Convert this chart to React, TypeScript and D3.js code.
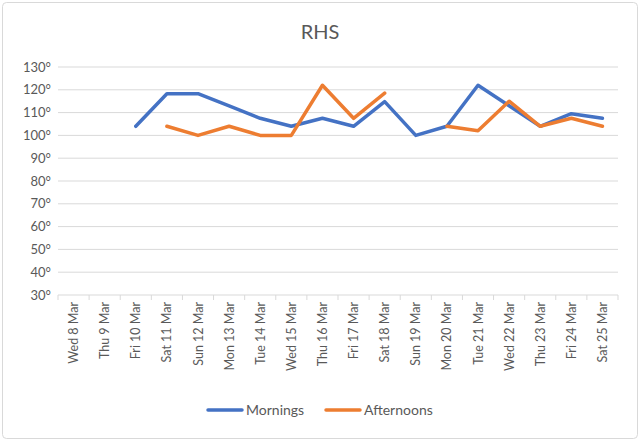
import React from "react";
import * as d3 from "d3";

const categories = [
  "Wed 8 Mar", "Thu 9 Mar", "Fri 10 Mar", "Sat 11 Mar", "Sun 12 Mar", "Mon 13 Mar",
  "Tue 14 Mar", "Wed 15 Mar", "Thu 16 Mar", "Fri 17 Mar", "Sat 18 Mar", "Sun 19 Mar",
  "Mon 20 Mar", "Tue 21 Mar", "Wed 22 Mar", "Thu 23 Mar", "Fri 24 Mar", "Sat 25 Mar",
];
const mornings: (number | null)[] = [
  null, null, 104, 118.3, 118.3, 113, 107.5, 104, 107.5, 104, 114.8, 100,
  104, 122, 113, 104, 109.5, 107.5,
];
const afternoons: (number | null)[] = [
  null, null, null, 104, 100, 104, 100, 100, 122, 107.5, 118.5, null,
  104, 102, 115, 104, 107.5, 104,
];
const yTicks = [30, 40, 50, 60, 70, 80, 90, 100, 110, 120, 130];
const seriesNames = ["Mornings", "Afternoons"];
const colors = ["#4472C4", "#ED7D31"];

const W = 640, H = 441;
const left = 58, right = 618, top = 67, bottom = 295;
const font = "Lato, 'Open Sans', sans-serif";

export default function App() {
  const x = d3.scaleBand<string>().domain(categories).range([left, right]).padding(0);
  const y = d3.scaleLinear().domain([30, 130]).range([bottom, top]);
  const line = d3
    .line<number | null>()
    .defined((d) => d !== null)
    .x((_, i) => (x(categories[i]) as number) + x.bandwidth() / 2)
    .y((d) => y(d as number));
  const allSeries = [mornings, afternoons];
  const boundaries = d3.range(categories.length + 1).map((i) => left + i * x.bandwidth());

  return (
    <svg width={W} height={H} style={{ position: "absolute", left: 0, top: 0, background: "#fff" }}>
      <rect x={2.5} y={2.5} width={W - 5} height={H - 5} rx={4} fill="#fff" stroke="#d9d9d9" strokeWidth={1} />
      <text x={W / 2} y={39} textAnchor="middle" fontFamily={font} fontSize={20} fill="#595959">RHS</text>
      {yTicks.map((t) => (
        <g key={t}>
          {t !== 30 && <line x1={left} x2={right} y1={y(t)} y2={y(t)} stroke="#d9d9d9" strokeWidth={1} />}
          <text x={51} y={y(t) + 4.5} textAnchor="end" fontFamily={font} fontSize={13} fill="#595959">{t}°</text>
        </g>
      ))}
      <line x1={left} x2={right} y1={y(30)} y2={y(30)} stroke="#d9d9d9" strokeWidth={1} />
      {boundaries.map((bx, i) => (
        <line key={i} x1={bx} x2={bx} y1={y(30)} y2={y(30) + 5} stroke="#d9d9d9" strokeWidth={1} />
      ))}
      {categories.map((c) => {
        const cx = (x(c) as number) + x.bandwidth() / 2;
        return (
          <text key={c} transform={`translate(${cx + 4.5},${y(30) + 7}) rotate(-90)`} textAnchor="end"
            fontFamily={font} fontSize={12.5} fill="#595959">{c}</text>
        );
      })}
      {allSeries.map((s, i) => (
        <path key={i} d={line(s) || ""} fill="none" stroke={colors[i]} strokeWidth={3.5}
          strokeLinejoin="round" strokeLinecap="round" />
      ))}
      {seriesNames.map((n, i) => {
        const lx = i === 0 ? 208 : 326;
        return (
          <g key={n}>
            <line x1={lx} x2={lx + 34} y1={410} y2={410} stroke={colors[i]} strokeWidth={3.5} strokeLinecap="round" />
            <text x={lx + 38} y={415} fontFamily={font} fontSize={14} fill="#595959">{n}</text>
          </g>
        );
      })}
    </svg>
  );
}
